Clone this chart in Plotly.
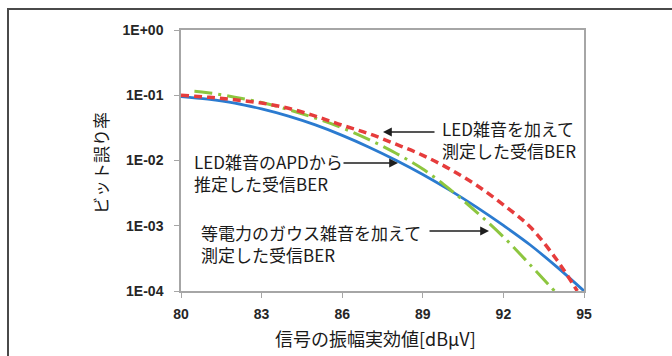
import plotly.graph_objects as go

# ---- data ----
x_apd = [80, 81, 82, 83, 84, 85, 86, 87, 88, 89, 90, 91, 92, 93, 94, 95]
ber_apd = [0.0955, 0.0871, 0.0759, 0.0617, 0.0479, 0.0351, 0.0243, 0.0160,
           0.0101, 0.00610, 0.00351, 0.00193, 0.00101, 0.000507, 0.000232, 0.0001]

x_led = [80, 81, 82, 83, 84, 85, 86, 87, 88, 89, 90, 91, 92, 93, 94, 94.75]
ber_led = [0.1, 0.0933, 0.0851, 0.0759, 0.0631, 0.0479, 0.0347, 0.0257,
           0.0178, 0.0120, 0.00741, 0.00417, 0.00209, 0.000955, 0.000295, 0.0001]

x_gauss = [80.5, 81, 82, 83, 84, 85, 86, 87, 88, 89, 90, 91, 92, 93, 93.9]
ber_gauss = [0.1148, 0.1096, 0.0933, 0.0776, 0.0603, 0.0447, 0.0316, 0.0209,
             0.0129, 0.00741, 0.00363, 0.00162, 0.000676, 0.000251, 0.0001]

x_ticks = [80, 83, 86, 89, 92, 95]
y_tickvals = [1, 0.1, 0.01, 0.001, 0.0001]
y_ticktext = ["1E+00", "1E-01", "1E-02", "1E-03", "1E-04"]

x_title = "信号の振幅実効値[dBμV]"
y_title = "ビット誤り率"
label_led = "LED雑音を加えて<br>測定した受信BER"
label_apd = "LED雑音のAPDから<br>推定した受信BER"
label_gauss = "等電力のガウス雑音を加えて<br>測定した受信BER"

# ---- layout geometry (pixels) ----
W, H = 672, 356
L, R, T, B = 181, 584, 30, 291


def px(xp):
    return (xp - L) / (R - L)


def py(yp):
    return (B - yp) / (B - T)


fig = go.Figure()
fig.add_trace(go.Scatter(x=x_apd, y=ber_apd, mode="lines", line_shape="spline",
                         line=dict(color="#2b7bd0", width=2.8), name="APD"))
fig.add_trace(go.Scatter(x=x_gauss, y=ber_gauss, mode="lines", line_shape="spline",
                         line=dict(color="#8dc63f", width=3, dash="18px,6px,3px,6px"),
                         name="Gauss"))
fig.add_trace(go.Scatter(x=x_led, y=ber_led, mode="lines", line_shape="spline",
                         line=dict(color="#e63c3c", width=3.5, dash="8px,5px"),
                         name="LED"))

tickfont = dict(family="Liberation Sans", size=14, color="#262626", weight="bold")
fig.update_xaxes(range=[80, 95], tickvals=x_ticks, ticktext=[str(v) for v in x_ticks],
                 showgrid=False, zeroline=False, showline=True, linecolor="#a6a6a6",
                 linewidth=1.5, mirror=True, ticks="outside", ticklen=5,
                 tickcolor="#a6a6a6", tickfont=tickfont, ticklabelstandoff=4)
fig.update_yaxes(type="log", range=[-4, 0], tickvals=y_tickvals, ticktext=y_ticktext,
                 showgrid=False, zeroline=False, showline=True, linecolor="#a6a6a6",
                 linewidth=1.5, mirror=True, ticks="outside", ticklen=5,
                 tickcolor="#a6a6a6", tickfont=tickfont, ticklabelstandoff=8)

txtfont = dict(family="Noto Sans CJK JP", size=17, color="#1a1a1a")
anns = []


def text(s, xp, yp, size=17, anchor="left", angle=0):
    f = dict(txtfont)
    f["size"] = size
    anns.append(dict(text=s, x=px(xp), y=py(yp), xref="paper", yref="paper",
                     xanchor=anchor, yanchor="middle", showarrow=False, align="left",
                     font=f, textangle=angle))


def arrow(hx, hy, tx, ty):
    anns.append(dict(text="", x=px(hx), y=py(hy), xref="paper", yref="paper",
                     ax=tx - hx, ay=ty - hy, axref="pixel", ayref="pixel",
                     showarrow=True, arrowhead=2, arrowsize=1.1, arrowwidth=1.6,
                     arrowcolor="#1e1e1e"))


text(label_led, 440, 139)
text(label_apd, 192, 172.5)
text(label_gauss, 199, 243)
arrow(383, 132, 436, 132)
arrow(398, 163, 342, 163)
arrow(489, 231, 428, 231)

text(x_title, 375, 338, size=18, anchor="center")
text(y_title, 100, 163, size=17, anchor="center", angle=-90)

fig.update_layout(
    width=W, height=H, margin=dict(l=L, r=W - R, t=T, b=H - B),
    paper_bgcolor="white", plot_bgcolor="white", showlegend=False,
    annotations=anns,
    shapes=[dict(type="path", xref="paper", yref="paper",
                 path=f"M {px(8)},{py(360)} L {px(8)},{py(9)} L {px(680)},{py(9)}",
                 line=dict(color="#4a4a4a", width=2))],
)

fig.write_html("out.html", config={"displayModeBar": False},
               post_script="document.body.style.margin='0';document.body.style.overflow='hidden';")
